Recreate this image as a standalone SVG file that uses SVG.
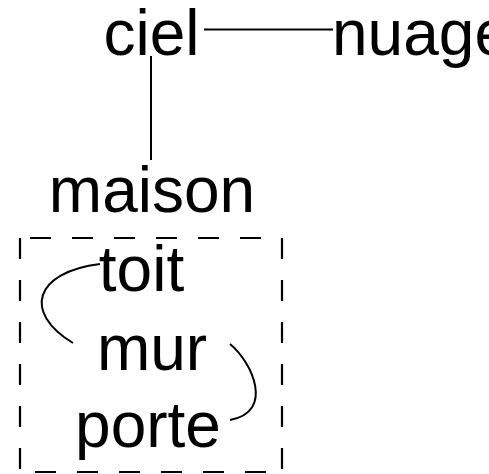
<svg xmlns="http://www.w3.org/2000/svg" width="489" height="474" viewBox="0 0 489 474">
<style>
.lbl{font-family:"Liberation Sans",Arial,sans-serif;font-size:64px;fill:#000;text-anchor:middle}
.edge{fill:none;stroke:#000;stroke-width:2}
.box{stroke:#000;stroke-width:2.2;stroke-dasharray:21 21;fill:none}
</style>
<rect width="489" height="474" fill="#fff"/>
<g id="cluster">
<line class="box" x1="20" y1="238" x2="282" y2="238" stroke-dashoffset="32"/>
<line class="box" x1="20" y1="472" x2="282" y2="472" stroke-dashoffset="27"/>
<line class="box" x1="20" y1="238" x2="20" y2="472"/>
<line class="box" x1="282" y1="238" x2="282" y2="472"/>
</g>
<g id="connectors">
<line class="edge" x1="204" y1="29.5" x2="333" y2="29.5"/>
<line class="edge" x1="151" y1="56" x2="151" y2="160"/>
<path class="edge" d="M100,264 C35,272 22,312 73,343"/>
<path class="edge" d="M230,344 C252,362 275,412 230,420"/>
</g>
<g id="ciel"><text class="lbl" x="151.5" y="55">ciel</text></g>
<g id="nuage"><text class="lbl" x="421" y="55">nuage</text></g>
<g id="maison"><text class="lbl" x="152" y="212">maison</text></g>
<g id="toit"><text class="lbl" x="141.5" y="290.5">toit</text></g>
<g id="mur"><text class="lbl" x="152" y="370">mur</text></g>
<g id="porte"><text class="lbl" x="148" y="447">porte</text></g>
</svg>
